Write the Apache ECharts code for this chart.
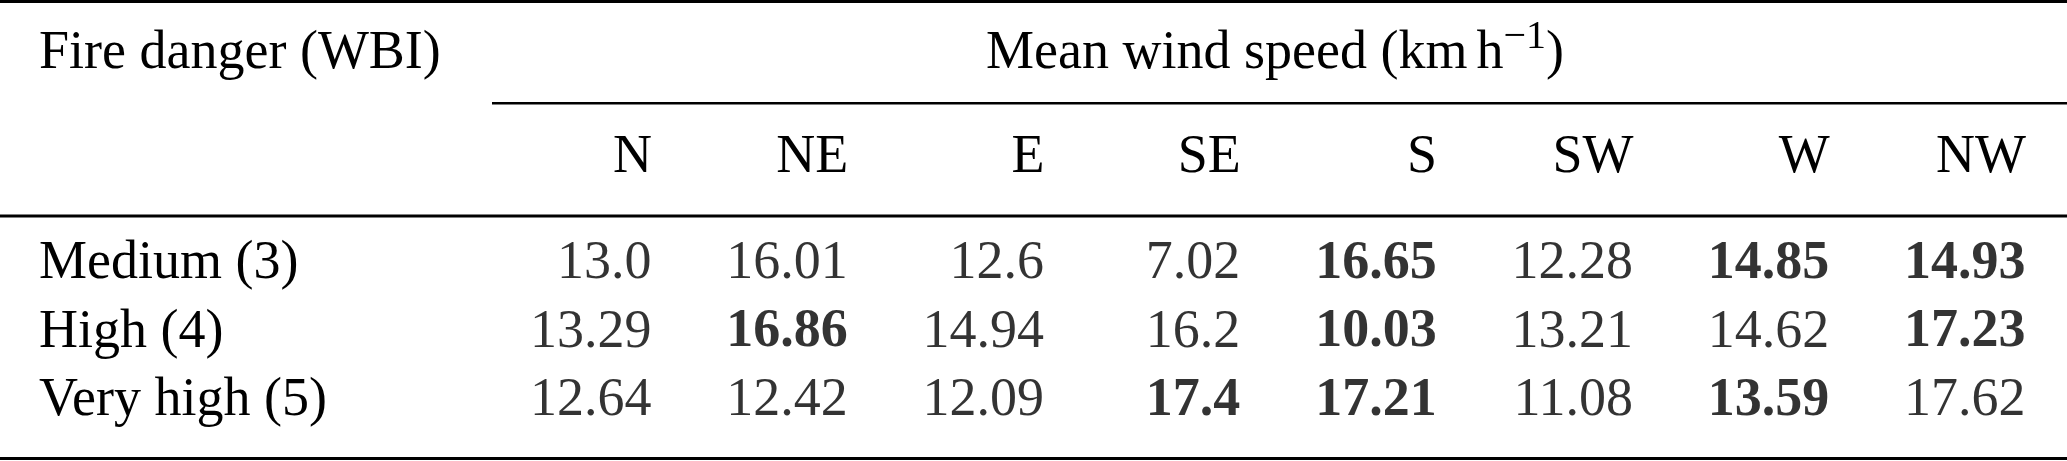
<!DOCTYPE html>
<html>
<head>
<meta charset="utf-8">
<script src="https://cdn.jsdelivr.net/npm/echarts@6/dist/echarts.min.js"></script>
<style>
  html, body { margin: 0; padding: 0; background: #fff; }
  #table { width: 2067px; height: 461px; }
</style>
</head>
<body>
<div id="table"></div>
<script>
// wind directions (columns) and fire danger classes (rows)
var directions = ['N', 'NE', 'E', 'SE', 'S', 'SW', 'W', 'NW'];
var dangerLevels = ['Medium (3)', 'High (4)', 'Very high (5)'];

// mean wind speed, km/h
var medium   = [13.0, 16.01, 12.6, 7.02, 16.65, 12.28, 14.85, 14.93];
var high     = [13.29, 16.86, 14.94, 16.2, 10.03, 13.21, 14.62, 17.23];
var veryHigh = [12.64, 12.42, 12.09, 17.4, 17.21, 11.08, 13.59, 17.62];

// values printed in bold
var boldMedium   = [0, 0, 0, 0, 1, 0, 1, 1];
var boldHigh     = [0, 1, 0, 0, 1, 0, 0, 1];
var boldVeryHigh = [0, 0, 0, 1, 1, 0, 1, 0];

(function () {
	var fs = 54, supFs = 40, shift = 19;
	var width = 2067, height = 461;
	var chart = echarts.init(document.getElementById('table'));

	function fmt(v) {
		return v % 1 === 0 ? v.toFixed(1) : String(v);
	}
	function rowSeries(level, vals, bold) {
		return {
			type: 'scatter',
			symbolSize: 1,
			itemStyle: { color: 'rgba(0,0,0,0)' },
			label: {
				show: true,
				position: 'left',
				distance: 0,
				formatter: function (p) { return '{' + (p.value[3] ? 'b' : 'n') + '|' + fmt(p.value[2]) + '}'; },
				rich: {
					n: { color: '#000', fontFamily: 'Liberation Serif', fontSize: fs },
					b: { color: '#000', fontFamily: 'Liberation Serif', fontSize: fs, fontWeight: 'bold' }
				}
			},
			data: directions.map(function (d, i) { return [d, level, vals[i], bold[i]]; })
		};
	}
	function bar(x, y, w, h) {
		return { type: 'rect', shape: { x: x, y: y, width: w, height: h }, style: { fill: '#000' } };
	}
	function word(t, x, y, size) {
		return { type: 'text', x: x, y: y, style: { text: t, font: size + 'px "Liberation Serif"', fill: '#000', verticalAlign: 'middle' } };
	}

	// header "Mean wind speed (km h^-1)" in pieces, centred as a whole
	var c2d = document.createElement('canvas').getContext('2d');
	function textW(t, size) {
		c2d.font = size + 'px "Liberation Serif"';
		return c2d.measureText(t).width;
	}
	var p1 = 'Mean wind speed (km', p2 = 'h', p3 = '\u22121', p4 = ')';
	var thin = fs / 6;
	var w1 = textW(p1, fs), w2 = textW(p2, fs), w3 = textW(p3, supFs), w4 = textW(p4, fs);
	var headX = 1275 - (w1 + thin + w2 + w3 + w4) / 2;

	var topY = 283 - shift;       // middle of first body row
	var bottomY = 420 - shift;    // middle of last body row

	chart.setOption({
		animation: false,
		grid: { left: 652, right: width - 2026, top: topY, bottom: height - bottomY },
		xAxis: {
			type: 'category',
			position: 'top',
			boundaryGap: false,
			data: directions,
			axisLine: { show: false },
			axisTick: { show: false },
			splitLine: { show: false },
			axisLabel: {
				interval: 0,
				align: 'right',
				verticalAlign: 'middle',
				margin: topY - (177 - shift),
				fontFamily: 'Liberation Serif',
				fontSize: fs,
				color: '#000'
			}
		},
		yAxis: {
			type: 'category',
			inverse: true,
			boundaryGap: false,
			data: dangerLevels,
			axisLine: { show: false },
			axisTick: { show: false },
			splitLine: { show: false },
			axisLabel: {
				interval: 0,
				align: 'left',
				margin: 652 - 39,
				fontFamily: 'Liberation Serif',
				fontSize: fs,
				color: '#000'
			}
		},
		graphic: [
			bar(0, 0, width, 3),                 // top rule
			bar(492, 102, width - 492, 2.5),     // rule under the spanning header
			bar(0, 214.5, width, 3),             // mid rule
			bar(0, 457, width, 3),               // bottom rule
			word('Fire danger (WBI)', 39, 73 - shift, fs),
			word(p1, headX, 73 - shift, fs),
			word(p2, headX + w1 + thin, 73 - shift, fs),
			word(p3, headX + w1 + thin + w2, 52 - shift * supFs / fs, supFs),
			word(p4, headX + w1 + thin + w2 + w3, 73 - shift, fs)
		],
		series: [
			rowSeries(dangerLevels[0], medium, boldMedium),
			rowSeries(dangerLevels[1], high, boldHigh),
			rowSeries(dangerLevels[2], veryHigh, boldVeryHigh)
		]
	});
})();
</script>
</body>
</html>
